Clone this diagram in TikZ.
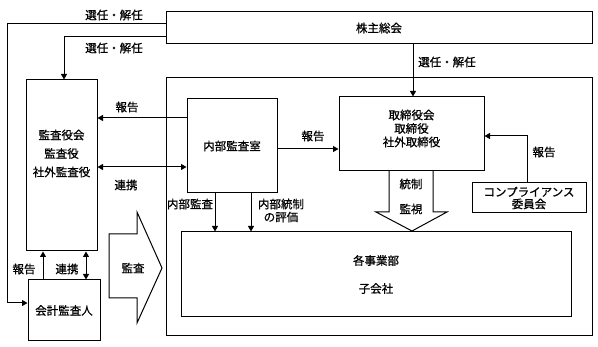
\documentclass[tikz,border=0pt]{standalone}
\usepackage{fontspec}
\newfontfamily\jp[FakeBold=0.8]{Noto Sans CJK JP}
\usetikzlibrary{arrows.meta}
\begin{document}
\begin{tikzpicture}[x=1pt,y=-1pt,
  every node/.style={font=\jp\fontsize{11.5}{13.5}\selectfont, inner sep=0pt},
  box/.style={draw, line width=1pt, fill=none},
  lbl/.style={inner sep=1pt, align=center},
  ln/.style={line width=1pt},
  arr/.style={line width=1pt, -{Triangle[length=5.5pt,width=6pt]}},
  darr/.style={line width=1pt, {Triangle[length=5.5pt,width=6pt]}-{Triangle[length=5.5pt,width=6pt]}}]
\useasboundingbox (0,0) rectangle (598,347);
% boxes
\node[box, minimum width=426pt, minimum height=32pt] (kabu) at (379,28) {株主総会};
\node[box, minimum width=426pt, minimum height=258pt] (outer) at (379,207) {};
\node[box, minimum width=71pt, minimum height=171pt] (kansa) at (61.5,165.5) {};
\node[lbl, align=center, font=\jp\fontsize{11.5}{18.5}\selectfont] (kansaT) at (61.5,153.5) {監査役会\\監査役\\社外監査役};
\node[box, minimum width=90pt, minimum height=94pt] (naibu) at (232,146) {内部監査室};
\node[box, minimum width=145pt, minimum height=74pt] (tori) at (411.5,134) {};
\node[lbl, font=\jp\fontsize{11.5}{13.5}\selectfont] (toriT) at (411.5,128.5) {取締役会\\取締役\\社外取締役};
\node[box, minimum width=114pt, minimum height=30pt, align=center, font=\jp\fontsize{11.5}{12}\selectfont] (comp) at (529,198) {コンプライアンス\\委員会};
\node[box, minimum width=390pt, minimum height=85pt, align=center, font=\jp\fontsize{11.5}{28}\selectfont] (jigyo) at (376,274.5) {各事業部\\子会社};
\node[box, minimum width=72pt, minimum height=61pt] (kaikei) at (64,310.5) {会計監査人};
% block arrows
\draw[ln, fill=white] (109,234) -- (137,234) -- (137,212) -- (162,268) -- (137,323) -- (137,298) -- (109,298) -- cycle;
\node[lbl] (kansaL) at (133,268) {監査};
\draw[ln] (389,171) -- (389,212) -- (376,212) -- (412,231) -- (447,212) -- (433,212) -- (433,171);
\node[lbl] (toseiL) at (411,184) {統制};
\node[lbl] (kanshiL) at (411,209) {監視};
% connectors
\draw[arr] (kabu.west |- 0,24) -| (7,303) -- (kaikei.west |- 0,303);
\node[lbl] (sen1) at (114,15) {選任・解任};
\draw[arr] (kabu.west |- 0,37) -| ([xshift=2.5pt]kansa.north);
\node[lbl] (sen2) at (114,48) {選任・解任};
\draw[arr] (kabu.south -| 413,0) -- (tori.north -| 413,0);
\node[lbl] (sen3) at (447,62) {選任・解任};
\draw[arr] (naibu.west |- 0,118) -- (kansa.east |- 0,118);
\node[lbl] (hok1) at (127,107) {報告};
\draw[darr] (kansa.east |- 0,167) -- (naibu.west |- 0,167);
\node[lbl] (ren1) at (126,185) {連携};
\draw[arr] (naibu.east |- 0,149) -- (tori.west |- 0,149);
\node[lbl] (hok2) at (313,136) {報告};
\draw[arr] (comp.north -| 527,0) |- (tori.east |- 0,136);
\node[lbl] (hok3) at (544,152) {報告};
\draw[arr] (naibu.south -| 215,0) -- (jigyo.north -| 215,0);
\node[lbl] (naibuL) at (190,204) {内部監査};
\draw[arr] (naibu.south -| 251,0) -- (jigyo.north -| 251,0);
\node[lbl, font=\jp\fontsize{11.5}{13}\selectfont] (toseiHyoka) at (281,210.5) {内部統制\\の評価};
\draw[arr] (kaikei.north -| 43,0) -- (kansa.south -| 43,0);
\node[lbl] (hok4) at (24,269) {報告};
\draw[darr] (kaikei.north -| 86,0) -- (kansa.south -| 86,0);
\node[lbl] (ren2) at (67,269) {連携};
\end{tikzpicture}
\end{document}
